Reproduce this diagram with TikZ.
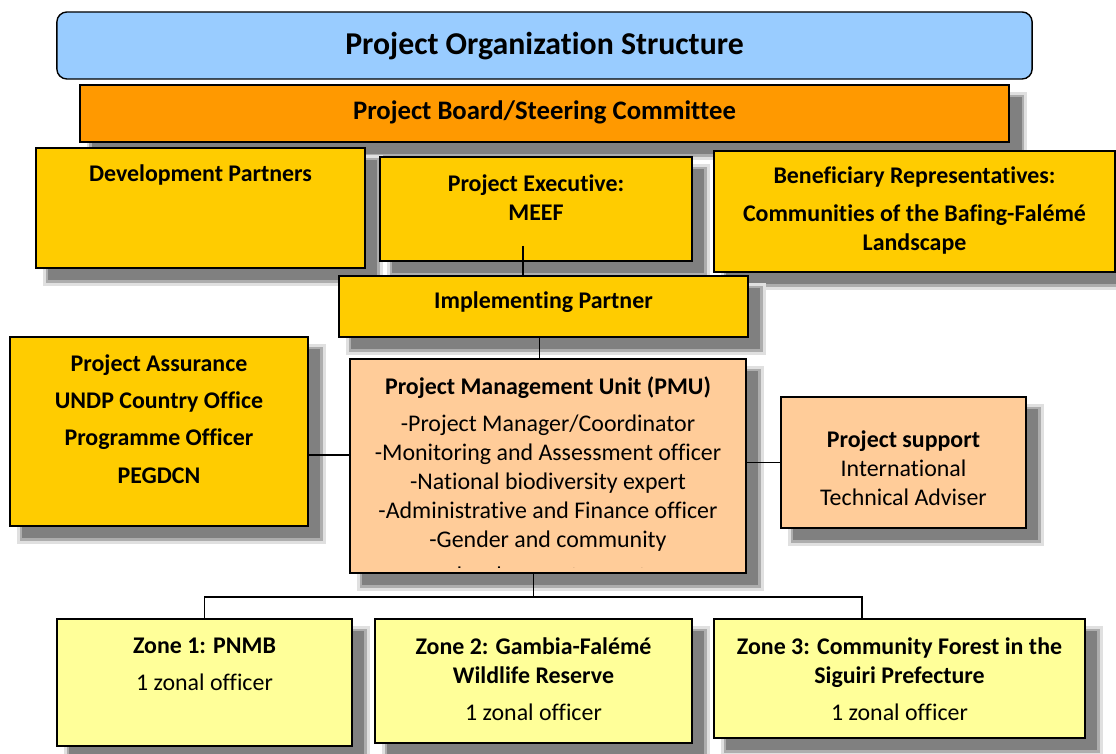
\documentclass[tikz,border=0pt]{standalone}
\usepackage{fontspec}
\setmainfont{Carlito}[RawFeature={-liga,-clig,-calt,-dlig}]
\usepackage{xcolor}
\usetikzlibrary{shadows, positioning}

\definecolor{titleblue}{HTML}{99CCFF}
\definecolor{boardorange}{HTML}{FF9900}
\definecolor{gold}{HTML}{FFCC00}
\definecolor{peach}{HTML}{FFCC99}
\definecolor{paleyellow}{HTML}{FFFF99}

\begin{document}
\begin{tikzpicture}[x=0.025cm, y=-0.025cm,
    softshadow/.style={
      drop shadow={shadow xshift=0.31cm, shadow yshift=-0.31cm, opacity=1, fill=black!12, draw=black!12, line width=0.26cm},
      drop shadow={shadow xshift=0.31cm, shadow yshift=-0.31cm, opacity=1, fill=black!32, draw=black!32, line width=0.14cm},
      drop shadow={shadow xshift=0.31cm, shadow yshift=-0.31cm, opacity=1, fill=black!50}},
    box/.style={draw, line width=1.3pt, softshadow, inner sep=0pt},
    txt/.style={align=center, inner sep=0pt, font=\fontsize{17}{20.6}\selectfont},
    txtb/.style={txt, font=\fontsize{17}{20.6}\selectfont\bfseries},
    link/.style={line width=1pt}]
    \useasboundingbox (0,0) rectangle (1116,754);

    \node[draw, line width=1pt, rounded corners=0.25cm, fill=titleblue, minimum width=24.375cm, minimum height=1.675cm] (title) at (544.5,45.5) {};
    \node[txt, font=\fontsize{22.6}{27}\selectfont\bfseries] (titletxt) at (544.5,46) {Project Organization Structure};

    \node[box, fill=boardorange, minimum width=23.225cm, minimum height=1.425cm] (board) at (544.5,113.5) {};
    \node[txt, font=\fontsize{19}{23}\selectfont\bfseries] (boardtxt) at (544.5,112) {Project Board/Steering Committee};

    \node[box, fill=gold, minimum width=8.225cm, minimum height=3cm] (dev) at (200.5,208) {};
    \node[txtb] (devtxt) at (200.5,175) {Development Partners};

    \node[box, fill=gold, minimum width=7.8cm, minimum height=2.6cm] (exec) at (536,209) {};
    \node[txtb] (exectxt) at (536,198) {Project Executive:\\MEEF};

    \node[box, fill=gold, minimum width=10.025cm, minimum height=3.025cm] (benef) at (914.5,211.5) {};
    \node[txtb] (beneftxt) at (914.5,210.5) {Beneficiary Representatives:\\[0.22cm]Communities of the Bafing-Falémé\\Landscape};

    \node[box, fill=gold, minimum width=10.225cm, minimum height=1.525cm] (impl) at (543.5,306.5) {};
    \node[txtb] (impltxt) at (543.5,302) {Implementing Partner};

    \node[box, fill=gold, minimum width=7.45cm, minimum height=4.725cm] (assure) at (159,431.5) {};
    \node[txtb] (assuretxt) at (159,419) {Project Assurance\\[0.21cm]UNDP Country Office\\[0.21cm]Programme Officer\\[0.21cm]PEGDCN};

    \node[box, fill=peach, minimum width=9.9cm, minimum height=5.35cm] (pmu) at (548,466) {};
    \begin{scope}
      \clip (350,359) rectangle (746,567);
      \node[txt, anchor=north] (pmutxt) at (548,376) {\textbf{Project Management Unit (PMU)}\\[0.22cm]-Project Manager/Coordinator\\-Monitoring and Assessment officer\\-National biodiversity expert\\-Administrative and Finance officer\\-Gender and community\\[0.18cm]development expert};
    \end{scope}

    \node[box, fill=peach, minimum width=6.125cm, minimum height=3.275cm] (support) at (903.5,462.5) {};
    \node[txt] (supporttxt) at (903.5,468.5) {\textbf{Project support}\\International\\Technical Adviser};

    \node[box, fill=paleyellow, minimum width=7.375cm, minimum height=3.175cm] (zone1) at (204.5,682.5) {};
    \node[txt] (zone1txt) at (204.5,664.5) {\textbf{Zone 1: PNMB}\\[0.2cm]1 zonal officer};

    \node[box, fill=paleyellow, minimum width=7.925cm, minimum height=3.1cm] (zone2) at (533.5,681) {};
    \node[txt] (zone2txt) at (533.5,679) {\textbf{Zone 2: Gambia-Falémé}\\\textbf{Wildlife Reserve}\\[0.2cm]1 zonal officer};

    \node[box, fill=paleyellow, minimum width=9.275cm, minimum height=2.975cm] (zone3) at (899.5,678.5) {};
    \node[txt] (zone3txt) at (899.5,679) {\textbf{Zone 3: Community Forest in the}\\\textbf{Siguiri Prefecture}\\[0.2cm]1 zonal officer};

    \coordinate (bus) at (533.5,597);

    \draw[link] ([xshift=-0.325cm, yshift=0.4cm]exec.south) -- ([xshift=-0.325cm]exec.south |- impl.north);
    \draw[link] ([xshift=-0.1cm]impl.south) -- ([xshift=-0.1cm]impl.south |- pmu.north);
    \draw[link] ([yshift=-0.59cm]assure.east) -- ([yshift=-0.59cm]assure.east -| pmu.west);
    \draw[link] (support.west) -- (support.west -| pmu.east);
    \draw[link] (pmu.south -| zone2.north) -- (bus);
    \draw[link] (zone1.north) -- (zone1.north |- bus) -- ([xshift=-0.94cm]zone3.north |- bus) -- ([xshift=-0.94cm]zone3.north);
\end{tikzpicture}
\end{document}
